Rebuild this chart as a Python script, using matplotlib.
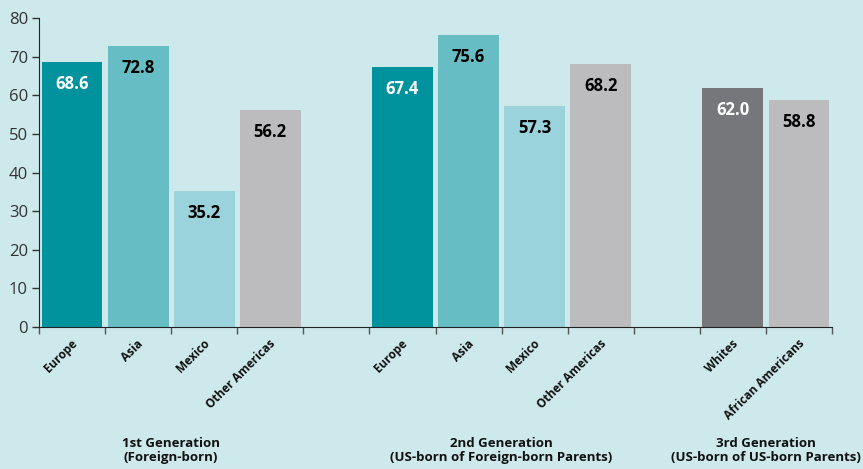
import matplotlib
matplotlib.use("Agg")
import matplotlib.pyplot as plt

categories = ["Europe", "Asia", "Mexico", "Other Americas",
              "Europe", "Asia", "Mexico", "Other Americas",
              "Whites", "African Americans"]
values = [68.6, 72.8, 35.2, 56.2, 67.4, 75.6, 57.3, 68.2, 62.0, 58.8]
slots = [0, 1, 2, 3, 5, 6, 7, 8, 10, 11]
colors = ["#00939e", "#66bec4", "#9bd3dc", "#bcbcbe",
          "#00939e", "#66bec4", "#9bd3dc", "#bcbcbe",
          "#76777b", "#bcbcbe"]
label_colors = ["white", "black", "black", "black",
                "white", "black", "black", "black",
                "white", "black"]
group_labels = ["1st Generation\n(Foreign-born)",
                "2nd Generation\n(US-born of Foreign-born Parents)",
                "3rd Generation\n(US-born of US-born Parents)"]
group_centers = [2, 7, 11]
yticks = [0, 10, 20, 30, 40, 50, 60, 70, 80]

bg = "#cde9ec"
W, H = 863, 469
fig = plt.figure(figsize=(W / 100, H / 100), dpi=100, facecolor=bg)
ax = fig.add_axes([39 / W, (H - 327) / H, (832 - 39) / W, (327 - 18) / H])
ax.set_facecolor(bg)

xs = [s + 0.5 for s in slots]
ax.bar(xs, values, width=0.92, color=colors, zorder=2)
for x, v, c in zip(xs, values, label_colors):
    ax.text(x, v - 5.8, f"{v:.1f}", ha="center", va="center", color=c,
            fontsize=12, fontweight="bold", family="Open Sans")

ax.set_xlim(0, 12)
ax.set_ylim(0, 80)
ax.set_yticks(yticks)
ax.set_yticklabels([str(t) for t in yticks], fontsize=12, color="#333333",
                   family="Open Sans")
ax.set_xticks(range(13))
ax.set_xticklabels([])
ax.tick_params(axis="y", direction="out", length=5, width=1, color="#333333", pad=3)
ax.tick_params(axis="x", direction="out", length=5, width=1, color="#555555")
for sp in ["top", "right"]:
    ax.spines[sp].set_visible(False)
ax.spines["left"].set_color("#222222")
ax.spines["bottom"].set_color("#222222")

for x, cat in zip(xs, categories):
    ax.text(x - 0.02, -2.6, cat, rotation=45, ha="right", va="top",
            rotation_mode="anchor", fontsize=8.5, fontweight="bold",
            family="Open Sans", color="#111111")

for gc, gl in zip(group_centers, group_labels):
    ax.annotate(gl, xy=(gc, 0), xycoords="data", xytext=(0, -89),
                textcoords="offset points", ha="center", va="center",
                fontsize=9.5, fontweight="bold", family="Open Sans",
                color="#111111", linespacing=1.15, annotation_clip=False)

fig.savefig("out.png", dpi=100, facecolor=bg)
